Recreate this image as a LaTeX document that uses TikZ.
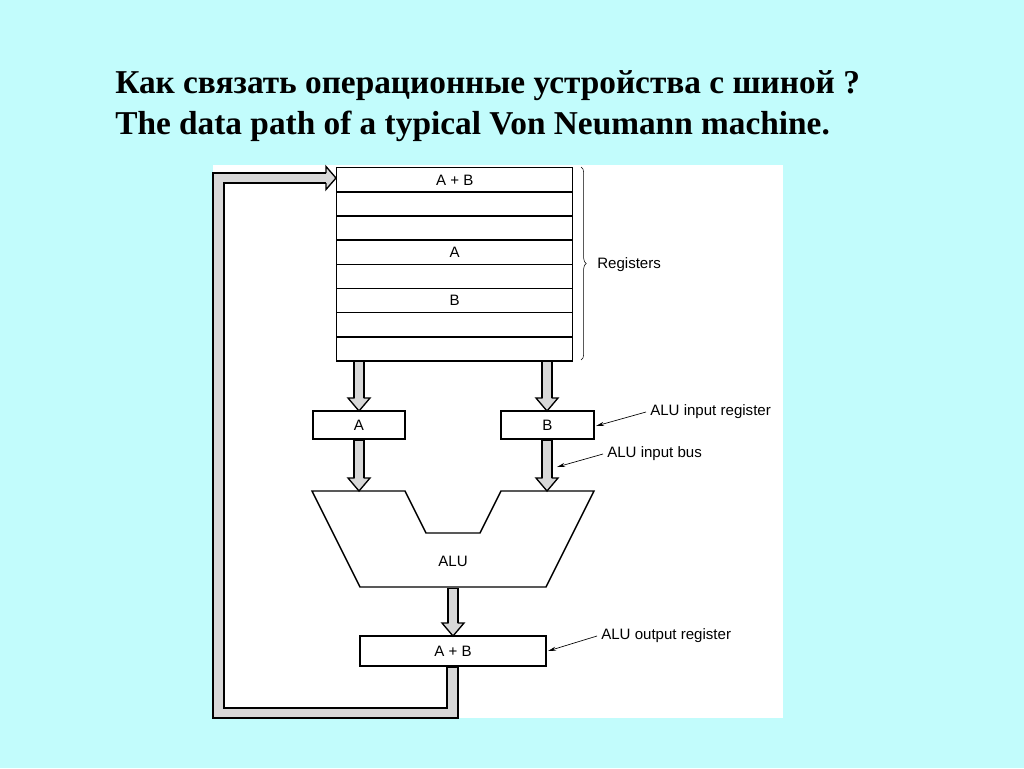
\documentclass[tikz,border=0pt]{standalone}
\usepackage{fontspec}
\setmainfont{Liberation Serif}
\newfontfamily\diag{Liberation Sans}
\usetikzlibrary{arrows.meta,decorations.pathreplacing}
\definecolor{bg}{HTML}{C2FCFC}
\definecolor{busgray}{HTML}{D8D8D8}
\tikzset{
 reg/.style={draw,line width=1.1pt,fill=white,minimum height=0pt,inner sep=0pt,font=\diag\fontsize{11.3}{13}\selectfont},
 lab/.style={font=\diag\fontsize{11.3}{13}\selectfont,inner sep=0pt},
 callout/.style={line width=0.5pt,-{Stealth[length=6pt,width=3pt]}},
 title/.style={font=\bfseries\fontsize{25}{29}\selectfont,anchor=base west,inner sep=0pt}
}
\newcommand{\busdown}[3]{% x, y1, y2
 \fill[black] (#1-6.2,#2) rectangle (#1+6.2,#3-13);
 \fill[busgray] (#1-4.2,#2+0.5) rectangle (#1+4.2,#3-12);
 \draw[line width=1pt,fill=busgray,line join=miter] (#1-4.5,#3-13)--(#1-11,#3-13)--(#1,#3)--(#1+11,#3-13)--(#1+4.5,#3-13);}
\begin{document}
\begin{tikzpicture}[x=0.75pt,y=-0.75pt]
\useasboundingbox (0,0) rectangle (1024,768);
\fill[bg] (0,0) rectangle (1024,768);
\fill[white] (213,165) rectangle (783,718);
\node[title] (t1) at (115,93) {Как связать операционные устройства с шиной ?};
\node[title] (t2) at (115,134) {The data path of a typical Von Neumann machine.};
\foreach \i/\t in {0/A + B,1/,2/,3/A,4/,5/B,6/,7/}{
 \node[reg,minimum width=236*0.75pt,minimum height=24.2*0.75pt,anchor=north west] (r\i) at (336,167+24.15*\i) {\t};}
\draw[decorate,decoration={brace,amplitude=4pt},line width=0.4pt] (581,167) -- (581,360);
\node[lab,anchor=west] (regs) at (597,265) {Registers};
\node[reg,minimum width=92*0.75pt,minimum height=28*0.75pt] (ra) at (359,425) {A};
\node[reg,minimum width=93*0.75pt,minimum height=28*0.75pt] (rb) at (547.5,425) {B};
\draw[line width=1.1pt,fill=white] (312,491)--(405,491)--(426,533)--(480,533)--(501,491)--(594,491)--(546,587)--(360,587)--cycle;
\node[lab] (alu) at (453,561) {ALU};
\node[reg,minimum width=186*0.75pt,minimum height=30*0.75pt] (ro) at (453,651) {A + B};
\busdown{359}{361}{411}
\busdown{547}{361}{411}
\busdown{359}{440}{491}
\busdown{547}{440}{491}
\busdown{453}{588}{636}
\draw[line width=9.5pt] (452.5,666.5)--(452.5,713)--(218.5,713)--(218.5,178)--(326,178);
\draw[line width=6.5pt,busgray] (452.5,667.5)--(452.5,713)--(218.5,713)--(218.5,178)--(327,178);
\draw[line width=1pt,fill=busgray,line join=miter] (326,183)--(326,189.5)--(336,178)--(326,166.5)--(326,173);
\node[lab,anchor=west] (lir) at (650,412) {ALU input register};
\node[lab,anchor=west] (lib) at (607,454) {ALU input bus};
\node[lab,anchor=west] (lor) at (601,636) {ALU output register};
\draw[callout] ([xshift=-3pt]lir.west) -- (596,426);
\draw[callout] ([xshift=-3pt]lib.west) -- (557,467);
\draw[callout] ([xshift=-3pt]lor.west) -- (548,651);
\end{tikzpicture}
\end{document}
